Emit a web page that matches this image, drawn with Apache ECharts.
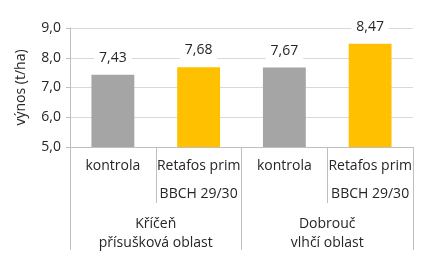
<!DOCTYPE html>
<html><head><meta charset="utf-8">
<script src="https://cdn.jsdelivr.net/npm/echarts@6/dist/echarts.min.js"></script>
<style>html,body{margin:0;padding:0;background:#fff}#c{width:429px;height:265px}</style>
</head><body><div id="c"></div>
<script>
const categories = ['kontrola', 'Retafos prim\n\nBBCH 29/30', 'kontrola', 'Retafos prim\n\nBBCH 29/30'];
const groups = ['Kříčeň\npřísušková oblast', 'Dobrouč\nvlhčí oblast'];
const values = [7.43, 7.68, 7.67, 8.47];
const yTicks = [5, 6, 7, 8, 9];
const barColors = ['#a5a5a5', '#ffc000', '#a5a5a5', '#ffc000'];
const FONT = 'Open Sans';
const chart = echarts.init(document.getElementById('c'), null, {renderer: 'canvas'});
chart.setOption({
  animation: false,
  textStyle: {fontFamily: FONT},
  grid: {left: 70, right: 16, top: 28, bottom: 118},
  xAxis: [{
    type: 'category', data: categories, position: 'bottom',
    axisLine: {show: true, lineStyle: {color: '#bfbfbf'}},
    axisTick: {show: true, interval: 0, length: 56, lineStyle: {color: '#bfbfbf'}},
    axisLabel: {interval: 0, fontFamily: FONT, fontSize: 14, color: '#262626', margin: 12, lineHeight: 14}
  }, {
    type: 'category', data: groups, position: 'bottom', offset: 0,
    axisLine: {show: false},
    axisTick: {show: true, interval: 0, length: 103, lineStyle: {color: '#bfbfbf'}},
    axisLabel: {interval: 0, fontFamily: FONT, fontSize: 14, color: '#262626', margin: 68, lineHeight: 19}
  }],
  yAxis: {
    type: 'value', min: yTicks[0], max: yTicks[yTicks.length - 1], interval: 1,
    name: 'výnos (t/ha)', nameLocation: 'middle', nameGap: 42,
    nameTextStyle: {fontFamily: FONT, fontSize: 14, color: '#262626'},
    axisLine: {show: true, lineStyle: {color: '#bfbfbf'}},
    axisTick: {show: true, length: 4, lineStyle: {color: '#bfbfbf'}},
    axisLabel: {fontFamily: FONT, fontSize: 14, color: '#262626', margin: 9,
      formatter: v => v.toFixed(1).replace('.', ',')},
    splitLine: {lineStyle: {color: '#d9d9d9'}}
  },
  series: [{
    type: 'bar', xAxisIndex: 0, barWidth: '50%',
    data: values.map((v, i) => ({value: v, itemStyle: {color: barColors[i]}})),
    label: {show: true, position: 'top', distance: 8, fontFamily: FONT, fontSize: 14, color: '#262626',
      backgroundColor: '#fff', padding: [2, 5],
      formatter: p => p.value.toFixed(2).replace('.', ',')}
  }]
});
</script></body></html>
